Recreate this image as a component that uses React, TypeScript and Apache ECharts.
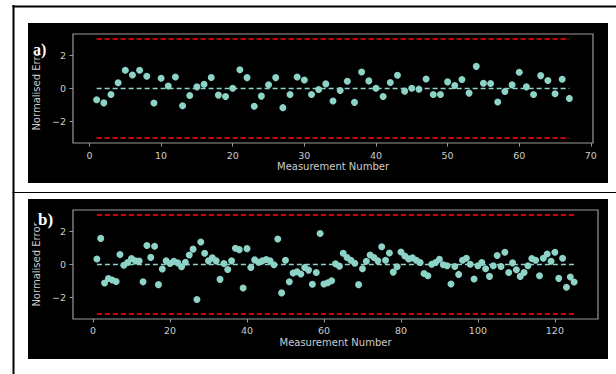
import React, { useEffect, useRef } from "react";
import * as echarts from "echarts";

// ---- data ----
const errorsA: number[] = [
  -0.68, -0.87, -0.36, 0.35, 1.1, 0.82, 1.1, 0.74, -0.88, 0.62,
  0.15, 0.7, -1.04, -0.42, 0.1, 0.26, 0.67, -0.4, -0.48, 0.02,
  1.14, 0.66, -1.08, -0.46, 0.23, 0.66, -1.16, -0.36, 0.7, 0.51,
  -0.36, -0.06, 0.28, -0.76, -0.12, 0.44, -0.84, 1.0, 0.46, 0.02,
  -0.48, 0.36, 0.8, -0.16, 0.02, -0.04, 0.58, -0.36, -0.36, 0.4,
  0.18, 0.54, -0.28, 1.34, 0.32, 0.3, -0.82, -0.18, 0.22, 0.98,
  0.1, -0.36, 0.78, 0.48, -0.32, 0.56, -0.6,
];

const errorsB: number[] = [
  0.33, 1.58, -1.12, -0.85, -0.94, -1.03, 0.6, -0.05, 0.12, 0.36,
  0.22, 0.21, -1.05, 1.15, 0.43, 1.11, -1.22, -0.27, 0.22, 0.06,
  0.2, 0.1, -0.14, 0.14, 0.57, 0.93, -2.12, 1.36, 0.68, 0.22,
  0.4, 0.22, -0.9, 0.06, -0.3, 0.22, 0.98, 0.9, -1.42, 0.96,
  -0.18, 0.28, 0.14, 0.22, 0.3, 0.22, -0.02, 1.54, -1.72, 0.26,
  -1.04, -0.52, -0.44, -0.57, -0.18, -0.34, -1.2, -0.48, 1.88, -1.18,
  -1.1, -0.98, 0.04, -0.1, 0.68, 0.42, 0.26, 0.08, -1.22, -0.26,
  0.2, 0.58, 0.42, 0.22, 1.08, 0.26, 0.7, -0.46, -0.14, 0.76,
  0.52, 0.34, 0.4, 0.26, 0.12, -0.54, -0.68, 0.02, 0.12, 0.32,
  -0.02, -0.08, -1.18, -0.12, -0.6, 0.26, 0.38, 0.02, -0.88, -0.08,
  0.12, -0.26, -0.72, -0.08, 0.54, -0.12, 0.74, -0.48, 0.1, -0.32,
  -0.72, -0.48, -0.08, 0.36, 0.26, -0.68, 0.38, 0.64, 0.2, 0.74,
  -0.84, 0.38, -1.38, -0.76, -1.06,
];

const limitLevels = [3, -3];
const zeroLevel = 0;
const xTicksA = [0, 10, 20, 30, 40, 50, 60, 70];
const xTicksB = [0, 20, 40, 60, 80, 100, 120];
const yTicks = [-2, 0, 2];
const xLabel = "Measurement Number";
const yLabel = "Normalised Error";
const panelLabels = ["a)", "b)"];

const TEAL = "#8dd3c7";
const RED = "#d40000";
const FRAME = "#9a9a9a";
const TXT = "#cccccc";
const FONT = "DejaVu Sans";

const fmt = (v: number) => String(v).replace("-", "\u2212");

function xAxisCfg(gridIndex: number, min: number, max: number, ticks: number[], margin: number, nameGap: number) {
  return {
    type: "value",
    gridIndex,
    min,
    max,
    splitLine: { show: false },
    axisLine: { show: false, onZero: false },
    axisTick: { show: true, customValues: ticks, length: 3.5, lineStyle: { color: FRAME, width: 1 } },
    axisLabel: { customValues: ticks, color: TXT, fontSize: 9.5, fontFamily: FONT, margin, formatter: fmt },
    name: xLabel,
    nameLocation: "middle",
    nameGap,
    nameTextStyle: { color: TXT, fontSize: 10, fontFamily: FONT },
  };
}

function yAxisCfg(gridIndex: number) {
  return {
    type: "value",
    gridIndex,
    min: -3.3,
    max: 3.3,
    splitLine: { show: false },
    axisLine: { show: false, onZero: false },
    axisTick: { show: true, customValues: yTicks, length: 3.5, lineStyle: { color: FRAME, width: 1 } },
    axisLabel: { customValues: yTicks, color: TXT, fontSize: 9.5, fontFamily: FONT, margin: 7, formatter: fmt },
    name: yLabel,
    nameLocation: "middle",
    nameGap: 25,
    nameRotate: 90,
    nameTextStyle: { color: TXT, fontSize: 10, fontFamily: FONT },
  };
}

function panelSeries(values: number[], idx: number) {
  const first = 1;
  const last = values.length;
  const series: any[] = [];
  series.push({
    type: "line",
    xAxisIndex: idx,
    yAxisIndex: idx,
    data: [[first, zeroLevel], [last, zeroLevel]],
    symbol: "none",
    lineStyle: { color: TEAL, width: 1.5, type: [5, 3] },
    z: 2,
  });
  limitLevels.forEach((lv) => {
    series.push({
      type: "line",
      xAxisIndex: idx,
      yAxisIndex: idx,
      data: [[first, lv], [last, lv]],
      symbol: "none",
      lineStyle: { color: RED, width: 2, type: [5, 3] },
      z: 2,
    });
  });
  series.push({
    type: "scatter",
    xAxisIndex: idx,
    yAxisIndex: idx,
    data: values.map((v, i) => [i + 1, v]),
    symbolSize: 7,
    itemStyle: { color: TEAL, opacity: 1 },
    z: 3,
  });
  return series;
}

export default function App() {
  const ref = useRef<HTMLDivElement>(null);
  useEffect(() => {
    if (!ref.current) return;
    const chart = echarts.init(ref.current, undefined, { renderer: "svg" });
    chart.setOption({
      animation: false,
      backgroundColor: "#ffffff",
      grid: [
        { left: 73, top: 34, width: 520, height: 109, show: true, borderColor: FRAME, borderWidth: 1.2, backgroundColor: "#000" },
        { left: 73, top: 210, width: 525, height: 109, show: true, borderColor: FRAME, borderWidth: 1.2, backgroundColor: "#000" },
      ],
      xAxis: [
        xAxisCfg(0, -2.3, 70.3, xTicksA, 7, 18),
        xAxisCfg(1, -5.2, 131.2, xTicksB, 6.5, 18),
      ],
      yAxis: [yAxisCfg(0), yAxisCfg(1)],
      series: [...panelSeries(errorsA, 0), ...panelSeries(errorsB, 1)],
      graphic: [
        { type: "rect", z: -20, shape: { x: 28, y: 23, width: 580, height: 160 }, style: { fill: "#000" } },
        { type: "rect", z: -20, shape: { x: 28, y: 199, width: 580, height: 160 }, style: { fill: "#000" } },
        { type: "line", z: -10, shape: { x1: 13.5, y1: 5, x2: 13.5, y2: 374 }, style: { stroke: "#000", lineWidth: 2 } },
        { type: "line", z: -10, shape: { x1: 12.5, y1: 6.5, x2: 616, y2: 6.5 }, style: { stroke: "#000", lineWidth: 2 } },
        { type: "line", z: -10, shape: { x1: 12.5, y1: 192.5, x2: 616, y2: 192.5 }, style: { stroke: "#000", lineWidth: 1 } },
        { type: "rect", z: 50, shape: { x: 32, y: 40, width: 17, height: 15 }, style: { fill: "#000" } },
        { type: "rect", z: 50, shape: { x: 37, y: 211, width: 18, height: 15 }, style: { fill: "#000" } },
        {
          type: "text", z: 60, x: 33, y: 41,
          style: { text: panelLabels[0], fill: "#ffffff", font: 'bold 16px "Liberation Serif"', verticalAlign: "top" },
        },
        {
          type: "text", z: 60, x: 38, y: 211,
          style: { text: panelLabels[1], fill: "#ffffff", font: 'bold 17px "Liberation Serif"', verticalAlign: "top" },
        },
      ],
    });
    return () => chart.dispose();
  }, []);
  return (
    <div style={{ position: "fixed", left: 0, top: 0, width: 616, height: 374 }}>
      <div ref={ref} style={{ width: 616, height: 374 }} />
    </div>
  );
}
